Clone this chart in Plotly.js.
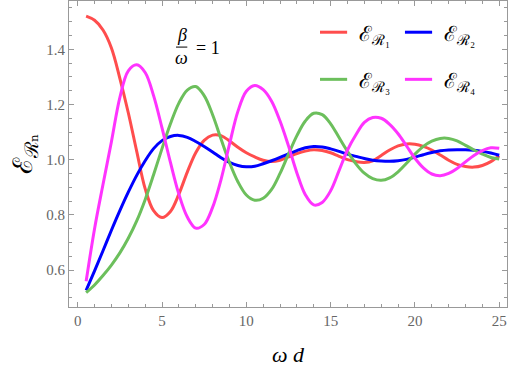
<!DOCTYPE html>
<html>
<head>
<meta charset="utf-8">
<script src="https://cdn.plot.ly/plotly-3.0.1.min.js"></script>
<style>
  body { margin: 0; background: #fff; }
  #plot { width: 510px; height: 377px; }
  #plot svg text { font-family: "Liberation Serif", "DejaVu Serif", serif !important; }
</style>
</head>
<body>
<div id="plot"></div>
<script>
var wd = [0.5, 1, 1.5, 2, 2.5, 3, 3.5, 4, 4.5, 5, 5.5, 6, 6.5, 7, 7.5, 8, 8.5, 9, 9.5, 10,
          10.5, 11, 11.5, 12, 12.5, 13, 13.5, 14, 14.5, 15, 15.5, 16, 16.5, 17, 17.5, 18, 18.5, 19, 19.5, 20,
          20.5, 21, 21.5, 22, 22.5, 23, 23.5, 24, 24.5, 25];

var r1 = [1.52, 1.505, 1.47, 1.405, 1.295, 1.17, 1.03, 0.895, 0.815, 0.79, 0.812, 0.875, 0.955, 1.025, 1.07, 1.089, 1.087, 1.068, 1.045, 1.025,
          1.01, 0.998, 0.993, 0.998, 1.01, 1.022, 1.031, 1.036, 1.033, 1.025, 1.012, 1.0, 0.993, 0.99, 0.996, 1.015, 1.035, 1.05, 1.057, 1.056,
          1.048, 1.035, 1.017, 0.998, 0.983, 0.975, 0.973, 0.979, 0.993, 1.014];

var r2 = [0.526, 0.597, 0.67, 0.744, 0.815, 0.882, 0.943, 0.996, 1.04, 1.069, 1.084, 1.088, 1.081, 1.066, 1.048, 1.028, 1.007, 0.99, 0.979, 0.974,
          0.976, 0.985, 0.996, 1.008, 1.021, 1.033, 1.043, 1.048, 1.046, 1.039, 1.03, 1.02, 1.012, 1.004, 0.998, 0.995, 0.994, 0.996, 1.001, 1.009,
          1.018, 1.026, 1.032, 1.035, 1.036, 1.036, 1.034, 1.03, 1.024, 1.016];

var r3 = [0.518, 0.546, 0.58, 0.618, 0.662, 0.715, 0.778, 0.855, 0.945, 1.04, 1.13, 1.205, 1.252, 1.265, 1.232, 1.163, 1.075, 0.99, 0.92, 0.872,
          0.853, 0.86, 0.892, 0.95, 1.02, 1.087, 1.14, 1.168, 1.163, 1.13, 1.08, 1.03, 0.985, 0.951, 0.931, 0.925, 0.934, 0.956, 0.987, 1.02,
          1.048, 1.067, 1.077, 1.077, 1.068, 1.052, 1.035, 1.02, 1.008, 1.002];

var r4 = [0.559, 0.75, 0.91, 1.065, 1.225, 1.322, 1.344, 1.316, 1.232, 1.115, 0.99, 0.875, 0.792, 0.752, 0.765, 0.827, 0.928, 1.055, 1.175, 1.248,
          1.269, 1.254, 1.212, 1.14, 1.05, 0.952, 0.873, 0.836, 0.845, 0.887, 0.96, 1.035, 1.09, 1.135, 1.153, 1.15, 1.128, 1.094, 1.05, 1.005,
          0.97, 0.948, 0.942, 0.95, 0.968, 0.992, 1.015, 1.033, 1.043, 1.041];

var seriesNames = ["ℰ<sub>ℛ₁</sub>", "ℰ<sub>ℛ₂</sub>", "ℰ<sub>ℛ₃</sub>", "ℰ<sub>ℛ₄</sub>"];
var seriesColors = ["#ff4d4d", "#0000ff", "#6cbf5c", "#ff33ff"];
var xTicks = [0, 5, 10, 15, 20, 25];
var yTicks = [0.6, 0.8, 1.0, 1.2, 1.4];

var serif = "Liberation Serif";
var ys = [r1, r2, r3, r4];

var traces = [];
for (var i = 0; i < 4; i++) {
  traces.push({
    type: "scatter",
    mode: "lines",
    x: wd,
    y: ys[i],
    name: seriesNames[i],
    showlegend: false,
    line: {color: seriesColors[i], width: 3, shape: "spline", smoothing: 1}
  });
}

// hand-made 2x2 legend like the original
var legendCols = [0.573, 0.767];
var legendRows = [0.898, 0.744];
var shapes = [];
var annotations = [];
for (var k = 0; k < 4; k++) {
  var cx = legendCols[k % 2], cy = legendRows[Math.floor(k / 2)];
  shapes.push({type: "line", xref: "paper", yref: "paper", x0: cx, x1: cx + 0.062, y0: cy, y1: cy,
    line: {color: seriesColors[k], width: 3}});
  annotations.push({xref: "paper", yref: "paper", x: cx + 0.085, y: cy - 0.008, xanchor: "left", yanchor: "middle",
    text: seriesNames[k], showarrow: false, font: {family: serif, size: 21, color: "#000"}});
}

// beta / omega = 1 label
shapes.push({type: "line", xref: "x", yref: "y", x0: 5.83, x1: 6.5, y0: 1.408, y1: 1.408, line: {color: "#000", width: 1}});
annotations.push({xref: "x", yref: "y", x: 6.17, y: 1.452, text: "<i>β</i>", showarrow: false,
  font: {family: serif, size: 18, color: "#000"}});
annotations.push({xref: "x", yref: "y", x: 6.17, y: 1.37, text: "<i>ω</i>", showarrow: false,
  font: {family: serif, size: 18, color: "#000"}});
annotations.push({xref: "x", yref: "y", x: 6.9, y: 1.405, xanchor: "left", text: "= 1", showarrow: false,
  font: {family: serif, size: 18, color: "#000"}});

var axisCommon = {
  showline: true, linecolor: "#999", linewidth: 1, mirror: "allticks",
  ticks: "inside", ticklen: 5, tickcolor: "#999", tickwidth: 1,
  showgrid: false, zeroline: false,
  tickfont: {family: serif, size: 15, color: "#666"}
};

var layout = {
  width: 510, height: 377,
  margin: {l: 69, r: 3, t: 1, b: 70},
  paper_bgcolor: "#fff", plot_bgcolor: "#fff",
  font: {family: serif},
  xaxis: Object.assign({}, axisCommon, {
    range: [-0.516, 25.46], tickvals: xTicks, ticktext: xTicks.map(String),
    minor: {dtick: 1, tick0: 0, ticks: "inside", ticklen: 3, tickcolor: "#999"},
    title: {text: "<i>ω d</i>", font: {family: serif, size: 22, color: "#000"}, standoff: 18}
  }),
  yaxis: Object.assign({}, axisCommon, {
    range: [0.466, 1.575], tickvals: yTicks, ticktext: yTicks.map(function (v) { return v.toFixed(1); }),
    minor: {dtick: 0.05, tick0: 0, ticks: "inside", ticklen: 3, tickcolor: "#999"},
    title: {text: "ℰ<sub>ℛₙ</sub>", font: {family: serif, size: 27, color: "#000"}, standoff: 5}
  }),
  shapes: shapes,
  annotations: annotations
};

Plotly.newPlot("plot", traces, layout, {staticPlot: true});
</script>
</body>
</html>
